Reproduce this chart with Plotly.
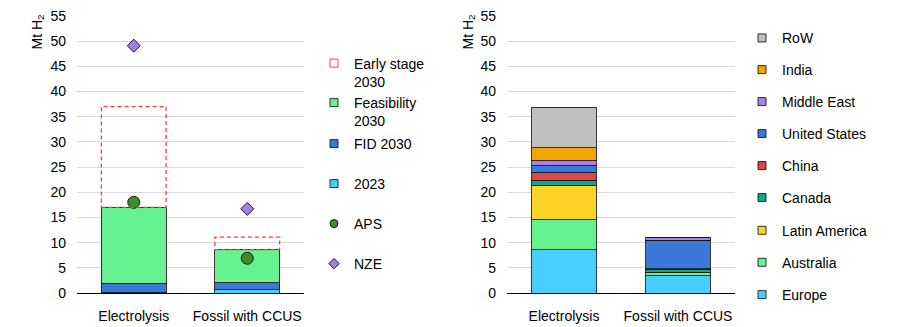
import plotly.graph_objects as go

# ---------------- data ----------------
routes = ["Electrolysis", "Fossil with CCUS"]

# left panel (Mt H2)
prod_2023 = [0.1, 0.6]
fid_2030 = [1.8, 1.4]
feasibility_2030 = [15.1, 6.6]
early_stage_2030 = [20.0, 2.5]
aps = [18.0, 6.9]
nze = [49.1, 16.7]

# right panel (Mt H2) by region
regions = ["Europe", "Australia", "Latin America", "Canada", "China",
           "United States", "Middle East", "India", "RoW"]
region_electrolysis = [8.6, 5.9, 6.9, 1.0, 1.5, 1.4, 1.0, 2.5, 8.1]
region_fossil = [3.4, 0.7, 0.0, 0.6, 0.1, 5.7, 0.6, 0.0, 0.0]

y_title = "Mt H<sub>2</sub>"

# ---------------- styles ----------------
FONT = "Liberation Sans, Arial, sans-serif"
EDGE = "rgba(20,20,20,0.85)"
C_2023 = "#47D0FF"
C_FID = "#3C78D8"
C_FEAS = "#66F290"
C_EARLY = "#FF3B3B"
C_APS = "#3E8E27"
C_NZE = "#A57EEA"
region_colors = {
    "Europe": "#47D0FF", "Australia": "#66F290", "Latin America": "#FDD425",
    "Canada": "#12A58C", "China": "#E04646", "United States": "#3C78D8",
    "Middle East": "#A782EB", "India": "#F0A500", "RoW": "#BFBFBF",
}
BW = 0.57

W, H = 907, 327
ML, MR, MT, MB = 77, 172, 16, 34
PW = W - ML - MR
PH = H - MT - MB


def px2x(px):
    return (px - ML) / PW


def px2y(py):
    return (H - MB - py) / PH


fig = go.Figure()

# ---- left panel bars ----
for name, vals, col in [("2023", prod_2023, C_2023), ("FID 2030", fid_2030, C_FID),
                        ("Feasibility 2030", feasibility_2030, C_FEAS)]:
    fig.add_trace(go.Bar(x=routes, y=vals, name=name, width=BW, showlegend=False,
                         marker=dict(color=col, line=dict(color=EDGE, width=1)),
                         xaxis="x", yaxis="y"))
# early stage: transparent stacked bar + dashed outline shapes
fig.add_trace(go.Bar(x=routes, y=early_stage_2030, name="Early stage 2030", width=BW,
                     showlegend=False, marker=dict(color="rgba(0,0,0,0)", line=dict(width=0)),
                     xaxis="x", yaxis="y"))
for i in range(len(routes)):
    base = prod_2023[i] + fid_2030[i] + feasibility_2030[i]
    fig.add_shape(type="rect", xref="x", yref="y", x0=i - BW / 2, x1=i + BW / 2,
                  y0=base, y1=base + early_stage_2030[i],
                  line=dict(color=C_EARLY, width=1.3, dash="4px,3px"))

fig.add_trace(go.Scatter(x=routes, y=aps, mode="markers", name="APS", showlegend=False,
                         marker=dict(symbol="circle", size=12, color=C_APS,
                                     line=dict(color="#1a1a1a", width=1)),
                         xaxis="x", yaxis="y"))
fig.add_trace(go.Scatter(x=routes, y=nze, mode="markers", name="NZE", showlegend=False,
                         marker=dict(symbol="diamond", size=10, color=C_NZE,
                                     line=dict(color="#1a1a1a", width=1)),
                         xaxis="x", yaxis="y"))

# ---- right panel bars ----
for r, ve, vf in zip(regions, region_electrolysis, region_fossil):
    fig.add_trace(go.Bar(x=routes, y=[ve, vf], name=r, width=BW, showlegend=False,
                         marker=dict(color=region_colors[r], line=dict(color=EDGE, width=1)),
                         xaxis="x2", yaxis="y2"))

# ---- legends (one per entry, positioned individually) ----
left_items = [
    ("Early stage<br>2030", dict(symbol="square-open", color=C_EARLY, line=dict(color=C_EARLY, width=1)), 72.5, True),
    ("Feasibility<br>2030", dict(symbol="square", color=C_FEAS, line=dict(color=EDGE, width=1)), 112, True),
    ("FID 2030", dict(symbol="square", color=C_FID, line=dict(color=EDGE, width=1)), 144, False),
    ("2023", dict(symbol="square", color=C_2023, line=dict(color=EDGE, width=1)), 184, False),
    ("APS", dict(symbol="circle", color=C_APS, line=dict(color="#1a1a1a", width=1)), 224, False),
    ("NZE", dict(symbol="diamond", color=C_NZE, line=dict(color="#1a1a1a", width=1)), 264, False),
]
right_centers = {"RoW": 38.3, "India": 70, "Middle East": 102, "United States": 134,
                 "China": 166, "Canada": 198, "Latin America": 230.7,
                 "Australia": 262.7, "Europe": 295}

legend_layouts = {}
k = 0


def add_legend_entry(label, marker, ycenter, xleft, twoline, xaxis, yaxis):
    global k
    k += 1
    lname = "legend" if k == 1 else f"legend{k}"
    m = dict(marker)
    m.setdefault("size", 8)
    fig.add_trace(go.Scatter(x=[None], y=[None], mode="markers", name=label,
                             marker=m, legend=lname, showlegend=True,
                             xaxis=xaxis, yaxis=yaxis))
    legend_layouts[lname] = dict(
        x=px2x(xleft), y=px2y(ycenter), xanchor="left", yanchor="middle",
        bgcolor="rgba(0,0,0,0)", borderwidth=0, valign="top" if twoline else "middle",
        font=dict(family=FONT, size=14, color="#000000"), itemwidth=30,
        tracegroupgap=0,
    )


for label, mk, yc, two in left_items:
    add_legend_entry(label, mk, yc, 314, two, "x", "y")
for r in reversed(regions):
    add_legend_entry(r, dict(symbol="square", color=region_colors[r],
                             line=dict(color=EDGE, width=1)),
                     right_centers[r], 742, False, "x2", "y2")

# ---------------- layout ----------------
yax = dict(range=[0, 55], dtick=5, showgrid=True, gridcolor="#D9D9D9", gridwidth=1,
           zeroline=False, showline=False, ticks="", ticklabelstandoff=10,
           tickfont=dict(family=FONT, size=14, color="#000000"))
xax = dict(type="category", showline=True, linecolor="#000000", linewidth=1.3,
           ticks="", ticklabelstandoff=10, showgrid=False,
           tickfont=dict(family=FONT, size=14, color="#000000"))

fig.update_layout(
    width=W, height=H,
    margin=dict(l=ML, r=MR, t=MT, b=MB, autoexpand=False),
    paper_bgcolor="#FFFFFF", plot_bgcolor="#FFFFFF",
    barmode="stack", bargap=0.43,
    xaxis=dict(domain=[0, px2x(304)], **xax),
    yaxis=dict(anchor="x", **yax),
    xaxis2=dict(domain=[px2x(507), 1], anchor="y2", **xax),
    yaxis2=dict(anchor="x2", **yax),
    font=dict(family=FONT, size=14, color="#000000"),
    **legend_layouts,
)

# y-axis titles placed at the top of each axis, as in the reference
for xc in (37, 468):
    fig.add_annotation(text=y_title, xref="paper", yref="paper", x=px2x(xc), y=px2y(13),
                       xanchor="center", yanchor="top", textangle=-90, showarrow=False,
                       font=dict(family=FONT, size=14, color="#000000"))

fig.write_html("out.html")
